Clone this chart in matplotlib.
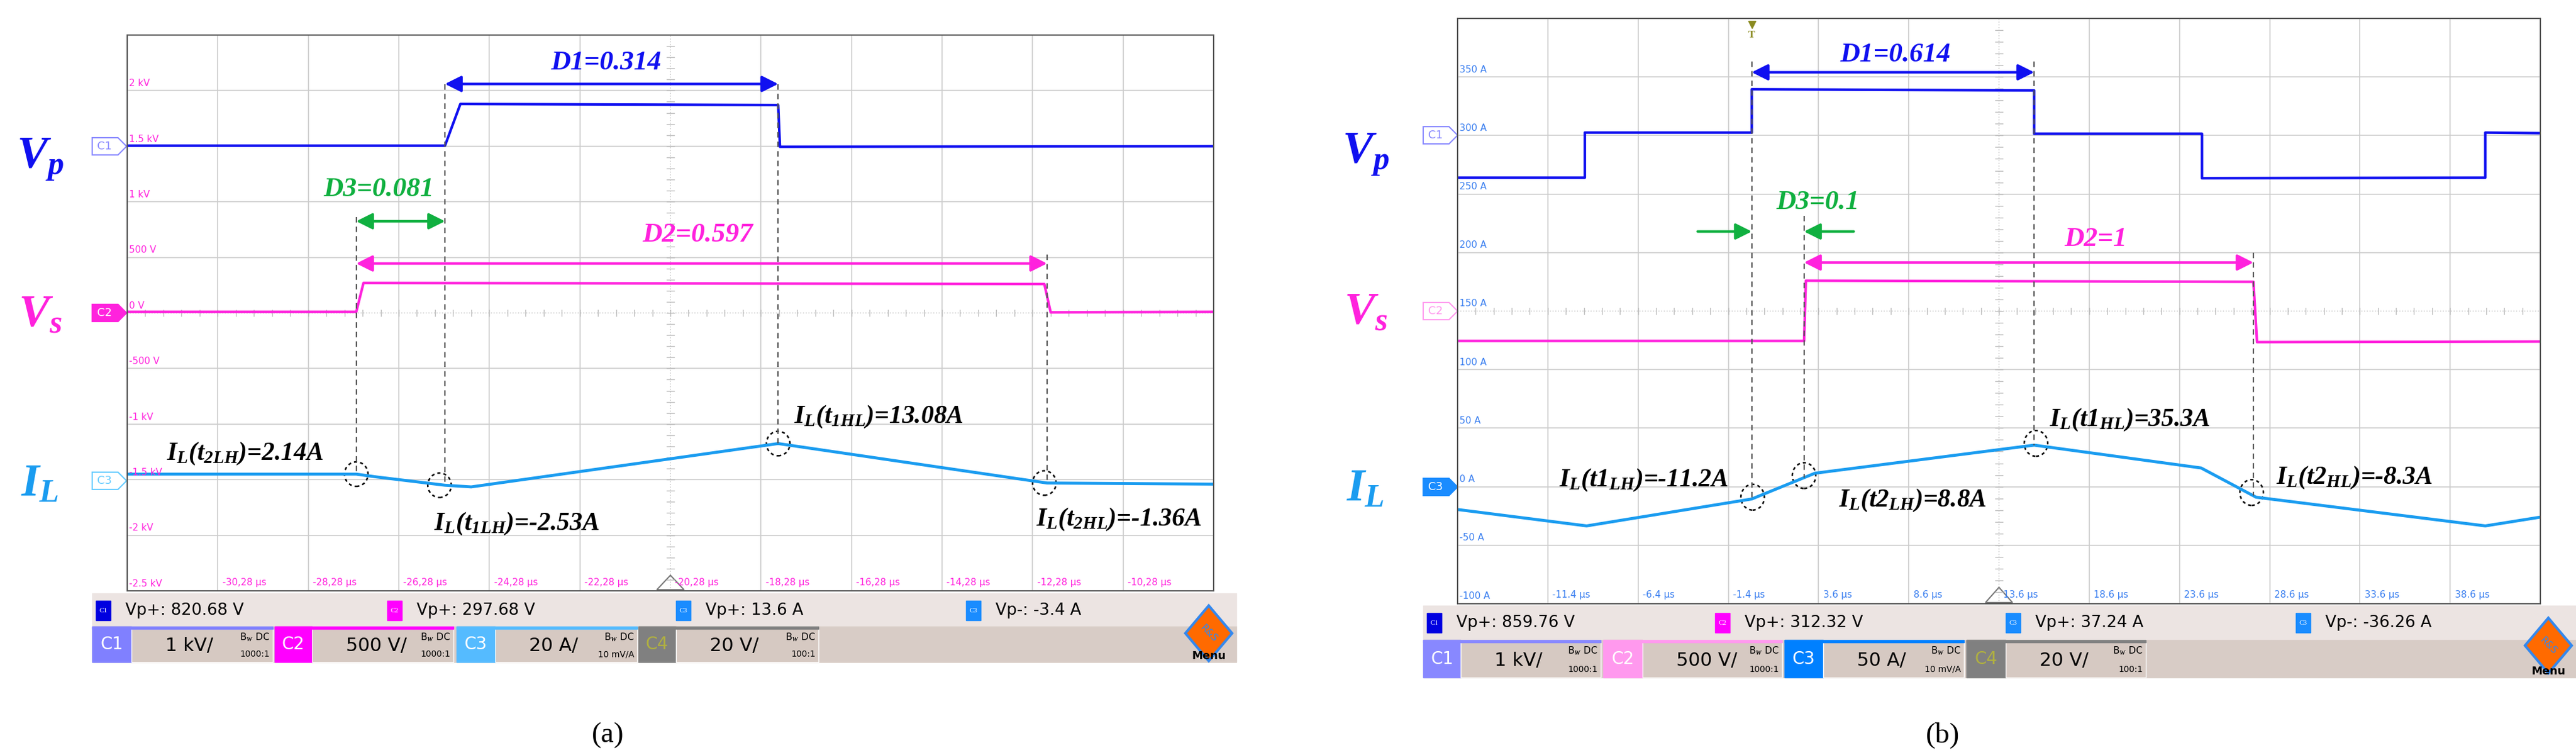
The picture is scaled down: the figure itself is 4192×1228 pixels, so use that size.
import matplotlib
matplotlib.use('Agg')
from matplotlib import pyplot as plt
from matplotlib.patches import Ellipse, Rectangle, Polygon
import numpy as np

W, H = 4192, 1228

# ---- panel (a) data, in screen divisions (x 0..12, y 0..10) ----
a_vp_x = [0, 3.51, 3.68, 7.19, 7.21, 12]
a_vp_y = [8.01, 8.01, 8.76, 8.74, 7.99, 8.0]
a_vs_x = [0, 2.53, 2.61, 10.13, 10.2, 12]
a_vs_y = [5.02, 5.02, 5.54, 5.52, 5.01, 5.02]
a_il_x = [0, 2.53, 2.75, 3.51, 3.8, 7.19, 10.16, 12]
a_il_y = [2.10, 2.10, 2.05, 1.90, 1.87, 2.65, 1.94, 1.92]
a_marks = [2.53, 3.51, 7.19, 10.16]
a_mark_top = [6.73, 9.12, 9.12, 6.05]
a_circles = [(2.53, 2.1), (3.45, 1.9), (7.19, 2.65), (10.13, 1.94)]
a_ylabels = ['-2.5 kV', '-2 kV', '-1.5 kV', '-1 kV', '-500 V', '0 V', '500 V', '1 kV', '1.5 kV', '2 kV']
a_xlabels = ['-30,28 µs', '-28,28 µs', '-26,28 µs', '-24,28 µs', '-22,28 µs', '-20,28 µs',
             '-18,28 µs', '-16,28 µs', '-14,28 µs', '-12,28 µs', '-10,28 µs']
a_notes = [(r'$I_L(t_{2LH})$=2.14A', 1.3, 2.47), (r'$I_L(t_{1LH})$=-2.53A', 4.3, 1.21),
           (r'$I_L(t_{1HL})$=13.08A', 8.3, 3.13), (r'$I_L(t_{2HL})$=-1.36A', 10.95, 1.28)]
a_meas = ['Vp+: 820.68 V', 'Vp+: 297.68 V', 'Vp+: 13.6 A', 'Vp-: -3.4 A']
a_scales = ['1 kV/', '500 V/', '20 A/', '20 V/']
a_probe = ['1000:1', '1000:1', '10 mV/A', '100:1']

# ---- panel (b) data ----
b_vp_x = [0, 1.41, 1.41, 3.26, 3.26, 6.39, 6.39, 8.25, 8.25, 11.39, 11.39, 12]
b_vp_y = [7.28, 7.28, 8.05, 8.05, 8.79, 8.77, 8.03, 8.03, 7.27, 7.28, 8.05, 8.04]
b_vs_x = [0, 3.84, 3.86, 8.82, 8.86, 12]
b_vs_y = [4.49, 4.49, 5.52, 5.50, 4.47, 4.48]
b_il_x = [0, 1.43, 3.26, 3.96, 6.39, 8.24, 8.85, 11.39, 12]
b_il_y = [1.61, 1.33, 1.79, 2.23, 2.71, 2.32, 1.82, 1.33, 1.48]
b_marks = [3.26, 3.84, 6.39, 8.82]
b_mark_top = [9.26, 6.63, 9.26, 6.0]
b_circles = [(3.27, 1.82), (3.84, 2.19), (6.41, 2.74), (8.8, 1.9)]
b_ylabels = ['-100 A', '-50 A', '0 A', '50 A', '100 A', '150 A', '200 A', '250 A', '300 A', '350 A']
b_xlabels = ['-11.4 µs', '-6.4 µs', '-1.4 µs', '3.6 µs', '8.6 µs', '13.6 µs',
             '18.6 µs', '23.6 µs', '28.6 µs', '33.6 µs', '38.6 µs']
b_notes = [(r'$I_L(t1_{LH})$=-11.2A', 2.06, 2.11), (r'$I_L(t2_{LH})$=8.8A', 5.04, 1.76),
           (r'$I_L(t1_{HL})$=35.3A', 7.45, 3.14), (r'$I_L(t2_{HL})$=-8.3A', 9.94, 2.15)]
b_meas = ['Vp+: 859.76 V', 'Vp+: 312.32 V', 'Vp+: 37.24 A', 'Vp-: -36.26 A']
b_scales = ['1 kV/', '500 V/', '50 A/', '20 V/']
b_probe = ['1000:1', '1000:1', '10 mV/A', '100:1']

C_VP, C_VS, C_IL = '#1010f0', '#ff22dd', '#1a9cf0'
plt.rcParams['mathtext.fontset'] = 'custom'
plt.rcParams['mathtext.it'] = 'Liberation Serif:italic:bold'
plt.rcParams['mathtext.rm'] = 'Liberation Serif:italic:bold'
plt.rcParams['mathtext.bf'] = 'Liberation Serif:italic:bold'
plt.rcParams['font.family'] = ['Liberation Serif', 'DejaVu Sans']
SERIF = dict(family='Liberation Serif', style='italic', weight='bold')

fig = plt.figure(figsize=(W / 100, H / 100), dpi=100)
bg = fig.add_axes([0, 0, 1, 1])
bg.set_xlim(0, W)
bg.set_ylim(H, 0)
bg.axis('off')


def px_axes(x0, y0, x1, y1):
    return fig.add_axes([x0 / W, 1 - y1 / H, (x1 - x0) / W, (y1 - y0) / H])


def arrow(ax, xa, xb, y, col, style='<|-|>'):
    ax.annotate('', (xa, y), (xb, y), arrowprops=dict(arrowstyle=style, color=col, lw=3,
                                                      mutation_scale=40, shrinkA=0, shrinkB=0))


def scope(box, vp, vs, il, marks, tops, circles, ylabels, xlabels, notes, lab_col,
          d1, d2, d3, d3_inward, trig):
    ax = px_axes(*box)
    ax.set_xlim(0, 12)
    ax.set_ylim(0, 10)
    ax.set_xticks([])
    ax.set_yticks([])
    for s in ax.spines.values():
        s.set_color('#555555')
        s.set_linewidth(1.5)
    for i in range(1, 12):
        ax.axvline(i, color='#cccccc', lw=1.2, ls=':' if i == 6 else '-', zorder=0)
    for j in range(1, 10):
        ax.axhline(j, color='#cccccc', lw=1.2, ls=':' if j == 5 else '-', zorder=0)
    for i in range(60):
        ax.plot([i / 5, i / 5], [4.95, 5.05], color='#bbbbbb', lw=1)
    for j in range(50):
        ax.plot([5.96, 6.04], [j / 5, j / 5], color='#bbbbbb', lw=1)
    for j, t in enumerate(ylabels):
        ax.text(0.02, j + 0.08, t, color=lab_col, fontsize=11, family='DejaVu Sans')
    for i, t in enumerate(xlabels):
        ax.text(i + 1.05, 0.1, t, color=lab_col, fontsize=11, family='DejaVu Sans')
    ax.add_patch(Polygon([[5.85, 0.02], [6.15, 0.02], [6.0, 0.28]], closed=True,
                         fill=False, ec='#777777', lw=1.5, clip_on=False))
    ax.plot(*vp, color=C_VP, lw=3)
    ax.plot(*vs, color=C_VS, lw=3)
    ax.plot(*il, color=C_IL, lw=3.5)
    for m, t in zip(marks, tops):
        ax.plot([m, m], [t, np.interp(m, il[0], il[1])], color='#555555', lw=1.6, ls=(0, (4, 3)))
    for cx, cy in circles:
        ax.add_patch(Ellipse((cx, cy), 0.26, 0.44, fill=False, ec='black', lw=1.8, ls=(0, (2, 2))))
    for t, x, y in notes:
        ax.text(x, y, t, ha='center', va='center', fontsize=30, **SERIF)
    # duty arrows
    (x0, x1, y, lx, ly, txt) = d1
    arrow(ax, x0, x1, y, C_VP)
    ax.text(lx, ly, txt, color=C_VP, ha='center', va='center', fontsize=32, **SERIF)
    (x0, x1, y, lx, ly, txt) = d2
    arrow(ax, x0, x1, y, C_VS)
    ax.text(lx, ly, txt, color=C_VS, ha='center', va='center', fontsize=32, **SERIF)
    (x0, x1, y, lx, ly, txt) = d3
    green = '#10b040'
    if d3_inward:
        arrow(ax, x0, x0 - 0.6, y, green, '-|>')
        arrow(ax, x1, x1 + 0.55, y, green, '-|>')
    else:
        arrow(ax, x0, x1, y, green)
    ax.text(lx, ly, txt, color=green, ha='center', va='center', fontsize=32, **SERIF)
    if trig is not None:
        ax.text(trig, 9.72, 'T', color='#8a8a20', ha='center', va='center', fontsize=12, weight='bold')
        ax.plot([trig], [9.9], marker='v', color='#8a8a20', ms=8)
    return ax


def status_bar(x0, x1, y0, y1, y2, sq_x, blocks, meas, scales, probe, lab_cols, sqcols):
    bg.add_patch(Rectangle((x0, y0), x1 - x0, y1 - y0, color='#ece4e2', zorder=0))
    bg.add_patch(Rectangle((x0, y1), x1 - x0, y2 - y1, color='#d8ccc6', zorder=0))
    for k, (sx, t) in enumerate(zip(sq_x, meas)):
        bg.add_patch(Rectangle((sx, y0 + 12), 24, 32, color=sqcols[k]))
        bg.text(sx + 12, y0 + 28, 'C%d' % min(k + 1, 3), color='white', fontsize=8, ha='center', va='center')
        bg.text(sx + 48, y0 + 28, t, fontsize=19, va='center', family='DejaVu Sans')
    for k, (lx, fx, ex) in enumerate(blocks):
        bg.add_patch(Rectangle((lx, y1), fx - lx, y2 - y1, color=lab_cols[k]))
        bg.add_patch(Rectangle((fx, y1), ex - fx, y2 - y1, color='#d6c9c2', ec='white', lw=1))
        bg.add_patch(Rectangle((lx, y1), ex - lx, 4, color=lab_cols[k]))
        bg.text((lx + fx) / 2, (y1 + y2) / 2, 'C%d' % (k + 1), color='white' if k < 3 else '#b0b040',
                fontsize=20, ha='center', va='center', family='DejaVu Sans')
        bg.text(fx + 55, (y1 + y2) / 2 + 3, scales[k], fontsize=22, va='center', family='DejaVu Sans')
        bg.text(ex - 5, y1 + 18, r'B$_W$ DC', fontsize=11, ha='right', va='center', family='DejaVu Sans')
        bg.text(ex - 5, y2 - 13, probe[k], fontsize=10, ha='right', va='center', family='DejaVu Sans')
    # R&S menu logo
    mx = x1 - 45
    bg.add_patch(Polygon([[mx, y0 + 20], [mx + 38, y0 + 65], [mx, y0 + 110], [mx - 38, y0 + 65]],
                         closed=True, fc='#ff6a00', ec='#3388ee', lw=3))
    bg.text(mx, y0 + 65, 'R&S', fontsize=11, color='#3388ee', ha='center', va='center', rotation=-45,
            family='DejaVu Sans')
    bg.text(mx, y2 - 10, 'Menu', fontsize=13, weight='bold', ha='center', va='center', family='DejaVu Sans')


# panel (a)
scope((207, 57, 1975, 961), (a_vp_x, a_vp_y), (a_vs_x, a_vs_y), (a_il_x, a_il_y),
      a_marks, a_mark_top, a_circles, a_ylabels, a_xlabels, a_notes, '#ff22dd',
      (3.51, 7.19, 9.12, 5.29, 9.50, 'D1=0.314'),
      (2.53, 10.16, 5.89, 6.3, 6.40, 'D2=0.597'),
      (2.53, 3.51, 6.65, 2.78, 7.22, 'D3=0.081'), False, None)
# panel (b)
scope((2372, 30, 4134, 982), (b_vp_x, b_vp_y), (b_vs_x, b_vs_y), (b_il_x, b_il_y),
      b_marks, b_mark_top, b_circles, b_ylabels, b_xlabels, b_notes, '#3a7ff0',
      (3.26, 6.39, 9.08, 4.85, 9.38, 'D1=0.614'),
      (3.84, 8.82, 5.83, 7.07, 6.23, 'D2=1'),
      (3.26, 3.84, 6.36, 3.99, 6.86, 'D3=0.1'), True, 3.26)

# big channel labels
for px, ys in [(65, (259, 514, 789)), (2222, (251, 510, 797))]:
    for t, c, y in zip([r'$V_p$', r'$V_s$', r'$I_L$'], [C_VP, C_VS, C_IL], ys):
        bg.text(px, y, t, color=c, fontsize=54, ha='center', va='center')

# channel tabs
for tx, ys, fills, cols in [(150, (238, 509, 782), (False, True, False), ('#8888ff', '#ff22dd', '#66ccff')),
                            (2316, (220, 506, 792), (False, False, True), ('#8888ff', '#ff99ee', '#1a8cff'))]:
    for k, y in enumerate(ys):
        col = cols[k]
        bg.add_patch(Polygon([[tx, y - 14], [tx + 42, y - 14], [tx + 56, y], [tx + 42, y + 14], [tx, y + 14]],
                             closed=True, fc=col if fills[k] else 'white', ec=col, lw=1.5))
        bg.text(tx + 20, y, 'C%d' % (k + 1), color='white' if fills[k] else col, fontsize=13,
                ha='center', va='center', family='DejaVu Sans')

status_bar(150, 2012, 965, 1019, 1077, [156, 630, 1100, 1572],
           [(150, 214, 444), (447, 508, 738), (743, 806, 1037), (1039, 1100, 1332)],
           a_meas, a_scales, a_probe, ['#8080ff', '#ff00ff', '#55bbff', '#808080'],
           ['#0000e0', '#ff00ff', '#1a8cff', '#1a8cff'])
status_bar(2316, 4192, 985, 1041, 1102, [2322, 2791, 3264, 3736],
           [(2316, 2377, 2605), (2609, 2673, 2900), (2904, 2967, 3196), (3200, 3264, 3492)],
           b_meas, b_scales, b_probe, ['#8888ff', '#ff99ee', '#0080ff', '#808080'],
           ['#0000e0', '#ff00ff', '#1a8cff', '#1a8cff'])

bg.text(989, 1196, '(a)', fontsize=34, ha='center', va='center', family='Liberation Serif')
bg.text(3161, 1196, '(b)', fontsize=34, ha='center', va='center', family='Liberation Serif')

fig.savefig('out.png', dpi=100)
